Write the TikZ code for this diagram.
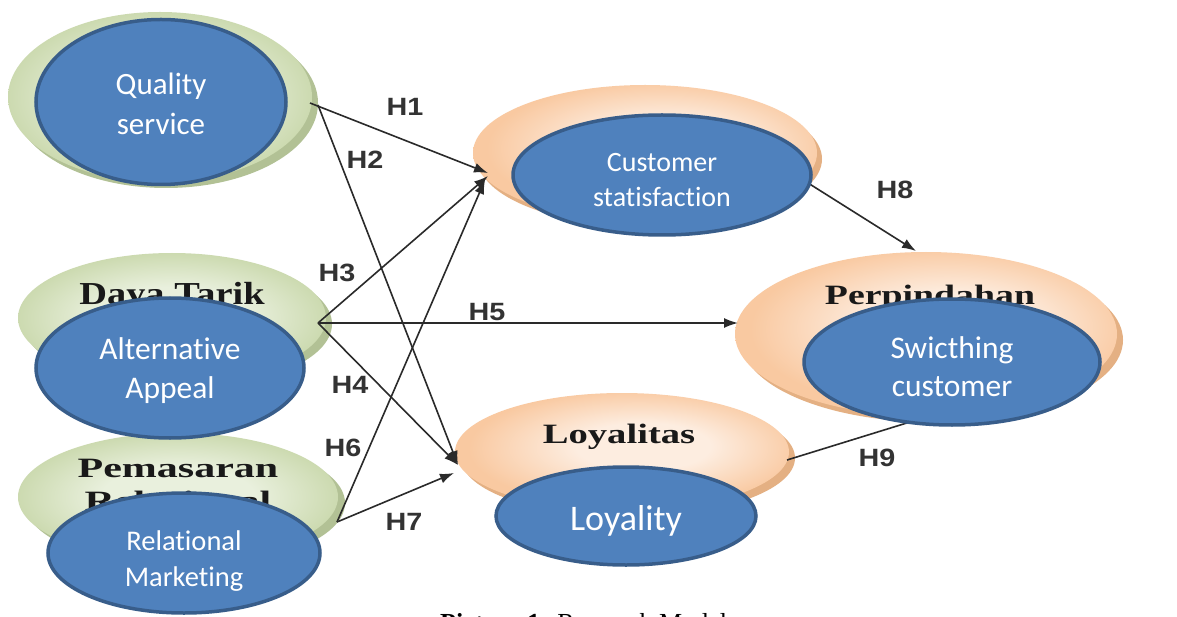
\documentclass[tikz,border=0pt]{standalone}
\usepackage{fontspec}
\setmainfont{Liberation Serif}
\newfontfamily\calib[Ligatures=NoCommon]{Carlito}
\newfontfamily\arialf{Liberation Sans}
\usetikzlibrary{shapes.geometric,arrows.meta}
\definecolor{grL}{HTML}{E9F0DD}
\definecolor{grD}{HTML}{CCDAB0}
\definecolor{grRim}{HTML}{B2C195}
\definecolor{orL}{HTML}{FDEDE0}
\definecolor{orD}{HTML}{F9C9A1}
\definecolor{orRim}{HTML}{E4B083}
\definecolor{blueF}{HTML}{4F81BD}
\definecolor{blueB}{HTML}{385D8A}
\definecolor{lineC}{HTML}{2A2A2A}
\definecolor{labC}{HTML}{333333}
\pgfdeclareradialshading{grsh}{\pgfpoint{0bp}{0bp}}{color(0bp)=(grL); color(12bp)=(grL); color(25bp)=(grD); color(50bp)=(grD)}
\pgfdeclareradialshading{orsh}{\pgfpoint{4bp}{3bp}}{color(0bp)=(orL); color(10bp)=(orL); color(25bp)=(orD); color(50bp)=(orD)}
\tikzset{
  grell/.style={ellipse, shading=grsh, inner sep=0pt},
  grrim/.style={ellipse, fill=grRim, inner sep=0pt},
  orell/.style={ellipse, shading=orsh, inner sep=0pt},
  orrim/.style={ellipse, fill=orRim, inner sep=0pt},
  blueell/.style={ellipse, draw=blueB, line width=3.5pt, fill=blueF, inner sep=0pt},
  btext/.style n args={4}{label={[text=white, align=center, inner sep=0pt, yshift=#3, font={\calib\fontsize{#1}{#2}\selectfont}]center:#4}},
  serlab/.style={anchor=base, text=black!90, font=\bfseries},
  hlab/.style={text=labC, font=\arialf\bfseries\fontsize{25}{25}\selectfont, inner sep=0pt},
  arr/.style={draw=lineC, line width=1.6pt, -{Latex[length=14pt,width=10pt]}},
  plain/.style={draw=lineC, line width=1.6pt}
}
\begin{document}
\begin{tikzpicture}[x=1pt,y=-1pt]
\useasboundingbox (0,0) rectangle (1177,617);
\clip (0,0) rectangle (1177,617);
\fill[white] (0,0) rectangle (1177,617);
% green ellipses
\node[grrim, minimum width=304, minimum height=170] (qsR) at (166,103) {};
\node[grell, minimum width=304, minimum height=170] (qsG) at (160,97) {};
\node[grrim, minimum width=308, minimum height=130] (aaR) at (178,324) {};
\node[grell, minimum width=308, minimum height=130] (aaG) at (172,318) {};
\node[grrim, minimum width=320, minimum height=128] (rmR) at (185,503) {};
\node[grell, minimum width=320, minimum height=128] (rmG) at (178,497) {};
% orange ellipses
\node[orrim, minimum width=344, minimum height=136] (csR) at (650,159) {};
\node[orell, minimum width=344, minimum height=136] (csO) at (645,153) {};
\node[orrim, minimum width=382, minimum height=164] (swR) at (932,340) {};
\node[orell, minimum width=382, minimum height=164] (swO) at (926,334) {};
\node[orrim, minimum width=334, minimum height=118] (loR) at (628,458) {};
\node[orell, minimum width=334, minimum height=118] (loO) at (622,452) {};
% serif labels
\node[serlab] (dtL) at (172,305) {\fontsize{32}{32}\selectfont\scalebox{1.2}[1]{Daya Tarik}};
\node[serlab] (pmL) at (178,477) {\fontsize{28}{28}\selectfont\scalebox{1.5}[1]{Pemasaran}};
\node[serlab] (rlL) at (178,510) {\fontsize{28}{28}\selectfont\scalebox{1.5}[1]{Relasional}};
\node[serlab] (ppL) at (930,305) {\fontsize{28}{28}\selectfont\scalebox{1.35}[1]{Perpindahan}};
\node[serlab] (lyL) at (619,443) {\fontsize{28}{28}\selectfont\scalebox{1.38}[1]{Loyalitas}};
% connection points
\coordinate (qsOut) at (310,103);
\coordinate (qsOut2) at (318,105);
\coordinate (aaOut) at (318,323);
\coordinate (rmOut) at (337,522);
\coordinate (csIn1) at (488,173);
\coordinate (csIn3) at (488,176);
\coordinate (csIn6) at (485,180);
\coordinate (loIn) at (458,465);
\coordinate (loIn7) at (454,473);
\coordinate (swIn) at (738,323);
\coordinate (csOut) at (808,183);
\coordinate (swIn8) at (916,251);
\coordinate (loOut) at (787,460);
\coordinate (swIn9) at (910,422);
% connectors
\draw[arr] (qsOut) -- (csIn1);
\draw[arr] (qsOut2) -- (loIn);
\draw[arr] (aaOut) -- (csIn3);
\draw[arr] (aaOut) -- (loIn);
\draw[arr] (aaOut) -- (swIn);
\draw[arr] (rmOut) -- (csIn6);
\draw[arr] (rmOut) -- (loIn7);
\draw[arr] (csOut) -- (swIn8);
\draw[plain] (loOut) -- (swIn9);
% H labels
\node[hlab] (h1) at (405,107) {\scalebox{1.15}[1]{H1}};
\node[hlab] (h2) at (365,160) {\scalebox{1.15}[1]{H2}};
\node[hlab] (h3) at (337,273) {\scalebox{1.15}[1]{H3}};
\node[hlab] (h4) at (350,385) {\scalebox{1.15}[1]{H4}};
\node[hlab] (h5) at (487,312) {\scalebox{1.15}[1]{H5}};
\node[hlab] (h6) at (343,448) {\scalebox{1.15}[1]{H6}};
\node[hlab] (h7) at (404,522) {\scalebox{1.15}[1]{H7}};
\node[hlab] (h8) at (895,190) {\scalebox{1.15}[1]{H8}};
\node[hlab] (h9) at (877,458) {\scalebox{1.15}[1]{H9}};
% blue ellipses
\node[blueell, minimum width=250, minimum height=165, btext={31}{40}{-2pt}{Quality\\service}] (qsB) at (161,102) {};
\node[blueell, minimum width=268, minimum height=140, btext={31.5}{39}{-3pt}{Alternative\\Appeal}] (aaB) at (170,368) {};
\node[blueell, minimum width=272, minimum height=120, btext={28.5}{36}{-8pt}{Relational\\Marketing}] (rmB) at (184,553) {};
\node[blueell, minimum width=298, minimum height=120, btext={28}{35}{-5pt}{Customer\\statisfaction}] (csB) at (662,175) {};
\node[blueell, minimum width=296, minimum height=126, btext={31.5}{38}{-5pt}{Swicthing\\customer}] (swB) at (952,362) {};
\node[blueell, minimum width=260, minimum height=98, btext={36}{40}{-5pt}{Loyality}] (loB) at (626,516) {};
% caption
\node[anchor=base west, inner sep=0pt, font=\fontsize{26}{26}\selectfont] (cap) at (440,631) {\textbf{Picture 1:} Research Model};
\end{tikzpicture}
\end{document}
